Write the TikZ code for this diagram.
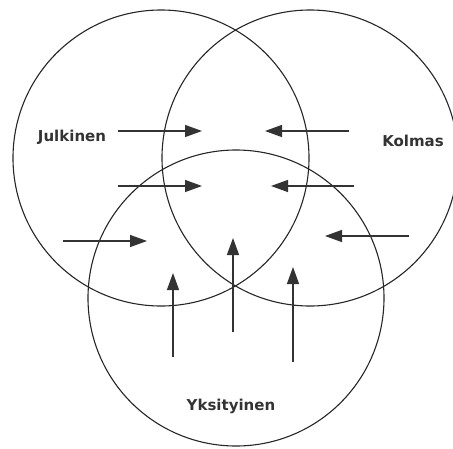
\documentclass[tikz,border=0pt]{standalone}
\usepackage{fontspec}
\setmainfont{DejaVu Sans}
\usetikzlibrary{arrows.meta}
\begin{document}
\begin{tikzpicture}[x=1pt,y=-1pt,
  ring/.style={draw=black!85,line width=1.1pt},
  flow/.style={draw=black!80,line width=1.4pt,-{Triangle[length=17pt,width=12pt]}},
  lab/.style={font=\bfseries\fontsize{15}{17}\selectfont,text=black!80}]
\useasboundingbox (0,0) rectangle (453,448);
\draw[ring] (161,158) circle (148);
\draw[ring] (310,158) circle (148);
\draw[ring] (236,298) circle (148);
\node[lab] (jul) at (72,137) {Julkinen};
\node[lab] (kol) at (413,141) {Kolmas};
\node[lab] (yks) at (231,406) {Yksityinen};
\coordinate (a1s) at (118,131); \coordinate (a1e) at (202,131);
\coordinate (a2s) at (349,131); \coordinate (a2e) at (265,131);
\coordinate (a3s) at (118,186); \coordinate (a3e) at (202,186);
\coordinate (a4s) at (354,186); \coordinate (a4e) at (271,186);
\coordinate (a5s) at (63,241);  \coordinate (a5e) at (147,241);
\coordinate (a6s) at (409,236); \coordinate (a6e) at (325,236);
\coordinate (a7s) at (173,357); \coordinate (a7e) at (173,273);
\coordinate (a8s) at (233,332); \coordinate (a8e) at (233,238);
\coordinate (a9s) at (293,362); \coordinate (a9e) at (293,267);
\foreach \i in {1,...,9} \draw[flow] (a\i s) -- (a\i e);
\end{tikzpicture}
\end{document}
